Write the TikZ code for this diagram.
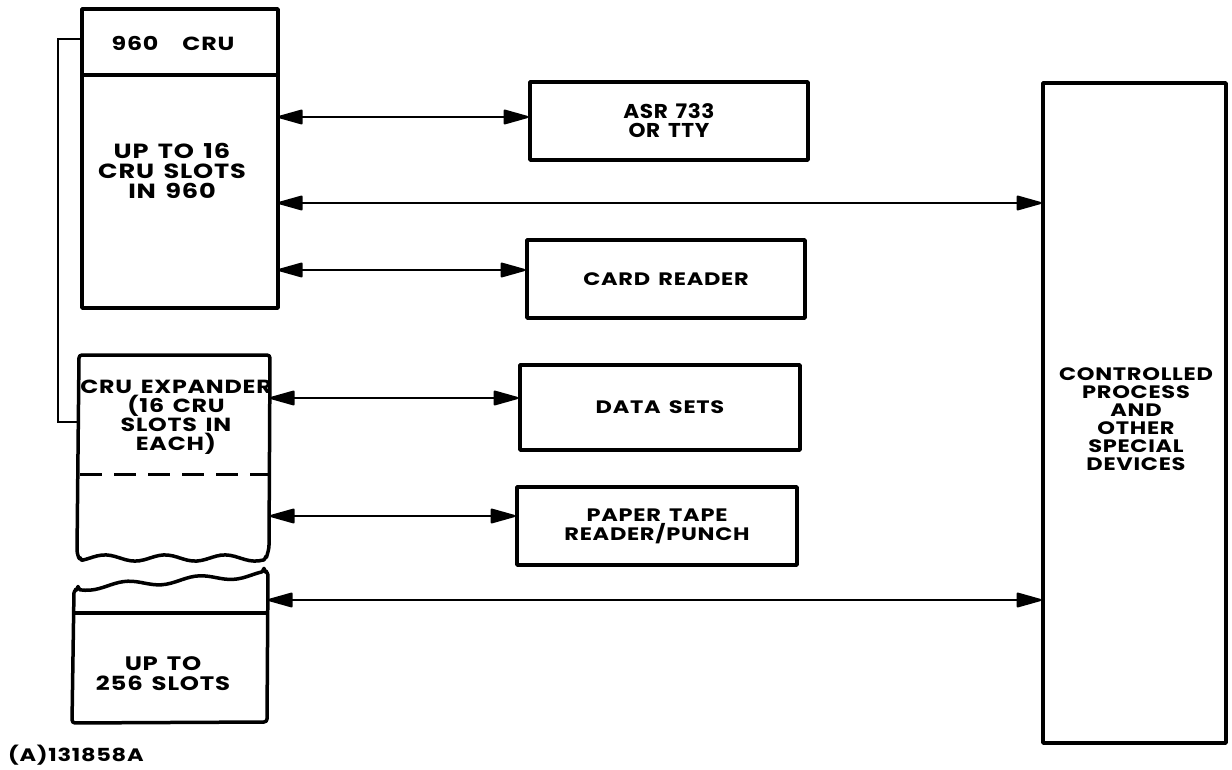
\documentclass[tikz,border=0pt]{standalone}
\usepackage{fontspec}
\setmainfont{Poppins}[FakeStretch=1.25, LetterSpace=4, WordSpace=1.5]
\usetikzlibrary{arrows.meta}
\begin{document}
\begin{tikzpicture}[x=1pt,y=-1pt,
  box/.style={draw, line width=3.5pt, line join=round},
  lbl/.style={font=\fontsize{19}{20}\selectfont\bfseries, align=center, inner sep=0pt},
  biglbl/.style={lbl, font=\fontsize{20.5}{20}\selectfont\bfseries},
  rlbl/.style={lbl, font=\fontsize{18}{19}\selectfont\bfseries},
  clbl/.style={font=\fontsize{18}{18}\selectfont\bfseries, align=center, inner sep=0pt},
  tip/.tip={Triangle[length=28pt,width=15pt,round]},
  bi/.style={line width=2.3pt, tip-tip},
  ghost/.style={inner sep=0pt, outer sep=0pt}]
\useasboundingbox (0,0) rectangle (1232,770);

% 960 CRU box
\node[box, ghost, minimum width=196pt, minimum height=299pt] (cru) at (180,158.5) {};
\draw[line width=3.5pt] (cru.west |- 0,75) -- (cru.east |- 0,75);
\node[lbl] (crut) at (173,43) {960\hspace{24pt}CRU};
\node[biglbl] (cruslots) at (172,171) {UP TO 16\\CRU SLOTS\\IN 960};

% CRU expander
\node[ghost, minimum width=192pt, minimum height=203pt] (exp) at (174,456.5) {};
\draw[box, rounded corners=3pt] (77,553) -- (79,355) -- (270,355) -- (269,548)
  -- plot[smooth, domain=266:80, samples=40] (\x,{558+3*sin(6*\x)}) -- cycle;
\draw[line width=3pt, dash pattern=on 22pt off 12pt] (80,474) -- (268,474);
\node[lbl, font=\fontsize{19}{19}\selectfont\bfseries] (expt) at (176,417) {CRU EXPANDER\\(16 CRU\\SLOTS IN\\EACH)};

% bottom box
\node[ghost, minimum width=196pt, minimum height=143pt] (slots) at (170,651.5) {};
\draw[box, rounded corners=3pt] (74,590)
  -- plot[smooth, domain=78:264, samples=40] (\x,{588-14*(\x-78)/186+3*sin(5*\x)}) -- (268,572)
  -- (267,722) -- (72,723) -- cycle;
\draw[line width=3.5pt] (72,613) -- (267,613);
\node[lbl, font=\fontsize{19.5}{20}\selectfont\bfseries] (slotst) at (163,674) {UP TO\\256 SLOTS};

% bracket
\draw[line width=2.2pt] (cru.west |- 0,39) -- (58,39) -- (58,422) -- (exp.west |- 0,422);

% right-hand boxes
\node[box, rlbl, font=\fontsize{20}{19}\selectfont\bfseries\addfontfeatures{FakeStretch=1.08, LetterSpace=3},
  minimum width=278pt, minimum height=78pt] (asr) at (669,121) {ASR 733\\OR TTY};
\node[box, rlbl, minimum width=278pt, minimum height=78pt] (card) at (666,279) {CARD READER};
\node[box, rlbl, minimum width=280pt, minimum height=85pt] (data) at (660,407.5) {DATA SETS};
\node[box, rlbl, minimum width=280pt, minimum height=78pt] (tape) at (657,526) {PAPER TAPE\\READER/PUNCH};
\node[box, minimum width=183pt, minimum height=660pt] (ctrl) at (1134.5,413) {};
\node[clbl] (ctrlt) at (1136,419) {CONTROLLED\\PROCESS\\AND\\OTHER\\SPECIAL\\DEVICES};

% connectors
\draw[bi] (cru.east |- 0,117) -- (asr.west |- 0,117);
\draw[bi] (cru.east |- 0,203) -- (ctrl.west |- 0,203);
\draw[bi] (cru.east |- 0,270) -- (card.west |- 0,270);
\draw[bi] (exp.east |- 0,398) -- (data.west |- 0,398);
\draw[bi] (exp.east |- 0,516) -- (tape.west |- 0,516);
\draw[bi] (slots.east |- 0,600) -- (ctrl.west |- 0,600);

% figure number
\node[lbl, font=\fontsize{18}{20}\selectfont\bfseries, anchor=west] (fig) at (8,755) {(A)131858A};
\end{tikzpicture}
\end{document}
